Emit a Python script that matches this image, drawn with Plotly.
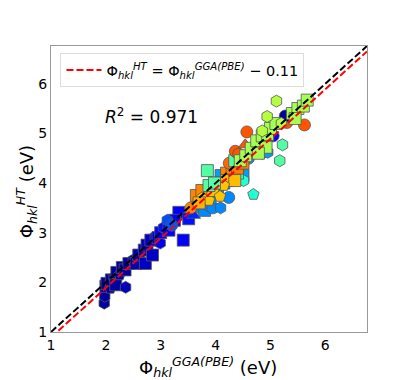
import numpy as np
import plotly.graph_objects as go

# ---- data ----
x_vals = [1.97, 1.98, 2.00, 2.02, 2.08, 2.10, 2.15, 2.18, 2.20, 2.25, 2.30, 2.36, 2.35, 2.42, 2.50,
          2.55, 2.60, 2.72, 2.70, 2.75, 2.85, 2.82, 2.90, 2.95, 2.99,
          3.00, 3.05, 3.15, 3.33, 3.41, 3.51, 3.25, 3.60, 3.12, 3.20,
          3.70, 3.80, 3.85, 3.95, 4.09, 4.24, 4.05, 4.15, 4.30, 4.50, 4.60, 4.85, 4.95, 3.90, 4.10,
          4.51, 4.69, 4.40,
          3.55, 3.65, 3.75, 4.20, 4.30, 4.40, 4.25, 4.50,
          3.75, 3.88, 3.95, 4.08, 4.00, 4.20, 4.35, 4.15, 3.70,
          3.85, 3.88, 3.98, 4.35, 4.70, 5.22, 5.17,
          4.36, 4.42, 4.54, 4.57, 5.30, 5.62,
          5.27, 5.05,
          4.45, 4.55, 4.65, 4.75, 4.85, 4.95, 5.00, 5.10, 4.92, 4.78, 5.40, 5.50, 5.60, 5.67, 5.45,
          5.11, 4.94, 4.85, 5.20]
y_vals = [1.58, 1.72, 1.92, 1.98, 1.88, 2.05, 2.10, 1.95, 2.20, 2.15, 2.30, 1.90, 2.25, 2.38, 2.45,
          2.38, 2.55, 2.38, 2.65, 2.75, 2.55, 2.85, 2.92, 2.90, 2.79,
          3.00, 3.10, 3.05, 3.41, 2.85, 3.28, 3.25, 3.35, 3.25, 3.15,
          3.50, 3.45, 3.55, 3.50, 3.50, 3.71, 3.85, 4.00, 4.10, 4.15, 4.50, 4.60, 4.62, 3.70, 4.15,
          4.05, 3.77, 4.20,
          3.50, 3.75, 3.85, 4.20, 4.30, 4.30, 4.40, 4.40,
          3.70, 3.65, 3.85, 3.73, 4.00, 4.05, 4.05, 3.95, 3.60,
          4.25, 3.95, 4.00, 4.45, 4.65, 4.77, 4.45,
          4.64, 4.58, 4.77, 5.03, 5.22, 5.17,
          5.35, 4.95,
          4.45, 4.55, 4.70, 4.85, 4.95, 4.98, 5.10, 5.20, 4.72, 4.60, 5.40, 5.50, 5.55, 5.67, 5.30,
          5.65, 5.34, 5.05, 5.20]
color_vals = [0.03, 0.03, 0.03, 0.03, 0.03, 0.03, 0.03, 0.03, 0.03, 0.03, 0.03, 0.05, 0.03, 0.03, 0.03,
              0.05, 0.05, 0.06, 0.05, 0.06, 0.06, 0.07, 0.08, 0.08, 0.10,
              0.12, 0.14, 0.12, 0.12, 0.12, 0.14, 0.13, 0.16, 0.20, 0.21,
              0.26, 0.26, 0.26, 0.26, 0.26, 0.26, 0.27, 0.27, 0.26, 0.28, 0.27, 0.28, 0.28, 0.27, 0.28,
              0.39, 0.39, 0.38,
              0.77, 0.77, 0.77, 0.77, 0.78, 0.78, 0.80, 0.78,
              0.70, 0.70, 0.70, 0.70, 0.70, 0.71, 0.71, 0.70, 0.72,
              0.45, 0.45, 0.45, 0.45, 0.46, 0.45, 0.45,
              0.82, 0.82, 0.82, 0.82, 0.82, 0.82,
              0.03, 0.12,
              0.55, 0.55, 0.55, 0.55, 0.55, 0.55, 0.55, 0.55, 0.55, 0.55, 0.55, 0.55, 0.55, 0.55, 0.55,
              0.57, 0.57, 0.57, 0.57]
symbols = ['hexagon', 'hexagon', 'square', 'square', 'pentagon', 'square', 'hexagon', 'square', 'square', 'pentagon',
           'square', 'hexagon', 'square', 'square', 'hexagon', 'square', 'square', 'square', 'square', 'square',
           'square', 'square', 'hexagon', 'square', 'hexagon',
           'square', 'hexagon', 'square', 'square', 'square', 'square', 'square', 'triangle-up', 'hexagon', 'circle',
           'hexagon', 'square', 'hexagon', 'circle', 'hexagon', 'circle', 'hexagon', 'square', 'circle', 'square',
           'circle', 'hexagon', 'hexagon', 'square', 'square',
           'hexagon', 'pentagon', 'square',
           'circle', 'square', 'square', 'square', 'square', 'square', 'circle', 'square',
           'pentagon', 'pentagon', 'square', 'pentagon', 'square', 'square', 'square', 'pentagon', 'square',
           'square', 'square', 'square', 'square', 'square', 'hexagon', 'hexagon',
           'circle', 'circle', 'triangle-up', 'circle', 'circle', 'circle',
           'circle', 'circle',
           'square', 'square', 'square', 'square', 'square', 'square', 'square', 'square', 'square', 'square',
           'square', 'square', 'square', 'square', 'square',
           'hexagon', 'hexagon', 'hexagon', 'hexagon']
line_x = [1.0, 6.76]
offset = 0.11

# ---- matplotlib "jet" colorscale ----
def jet(v):
    r = np.interp(v, [0, 0.35, 0.66, 0.89, 1], [0, 0, 1, 1, 0.5])
    g = np.interp(v, [0, 0.125, 0.375, 0.64, 0.91, 1], [0, 0, 1, 1, 0, 0])
    b = np.interp(v, [0, 0.11, 0.34, 0.65, 1], [0.5, 1, 1, 0, 0])
    return f"rgb({int(r*255)},{int(g*255)},{int(b*255)})"

jet_scale = [[s, jet(s)] for s in np.linspace(0, 1, 41)]

fig = go.Figure()
fig.add_trace(go.Scatter(
    x=x_vals, y=y_vals, mode='markers', showlegend=False,
    marker=dict(size=12, color=color_vals, colorscale=jet_scale, cmin=0, cmax=1,
                symbol=symbols, line=dict(color='#555555', width=0.8), opacity=1),
))
fig.add_trace(go.Scatter(
    x=line_x, y=[v - offset for v in line_x], mode='lines',
    line=dict(color='red', width=2, dash='7px,3px'),
    name='Φ<sub><i>hkl</i></sub><sup><i>HT</i></sup> = Φ<sub><i>hkl</i></sub><sup><i>GGA(PBE)</i></sup> − 0.11',
))
fig.add_trace(go.Scatter(
    x=line_x, y=line_x, mode='lines', showlegend=False,
    line=dict(color='black', width=2, dash='7px,3px'),
))

fig.add_annotation(x=2.83, y=5.35, xref='x', yref='y', showarrow=False,
                   text='<i>R</i><sup>2</sup> = 0.971',
                   font=dict(size=17, color='black', family='DejaVu Sans'))

# axis titles as annotations (placed like the reference)
fig.add_annotation(x=0.497, y=-0.122, xref='paper', yref='paper', showarrow=False,
                   xanchor='center', yanchor='middle',
                   text='Φ<sub><i>hkl</i></sub><sup><i>GGA(PBE)</i></sup> (eV)',
                   font=dict(size=18, color='black', family='DejaVu Sans'))
fig.add_annotation(x=-0.078, y=0.49, xref='paper', yref='paper', showarrow=False,
                   xanchor='center', yanchor='middle', textangle=-90,
                   text='Φ<sub><i>hkl</i></sub><sup><i>HT</i></sup> (eV)',
                   font=dict(size=18, color='black', family='DejaVu Sans'))

axis_common = dict(range=[1, 6.76], tickvals=[1, 2, 3, 4, 5, 6], showgrid=False, zeroline=False,
                   showline=True, mirror=True, linecolor='#999999', linewidth=1,
                   ticks='', automargin=False,
                   tickfont=dict(size=14, color='black', family='DejaVu Sans'))

# the page body adds an 8px offset, so margins compensate for it
fig.update_layout(
    width=407, height=380,
    margin=dict(l=43, r=48, t=38, b=56, autoexpand=False),
    plot_bgcolor='white', paper_bgcolor='white',
    font=dict(family='DejaVu Sans', color='black'),
    xaxis=dict(**axis_common),
    yaxis=dict(**axis_common),
    legend=dict(x=0.03, y=0.975, xanchor='left', yanchor='top', itemwidth=35,
                bgcolor='rgba(255,255,255,0.9)', bordercolor='#dddddd', borderwidth=1,
                font=dict(size=14.5, family='DejaVu Sans')),
)

fig.write_html("out.html")
